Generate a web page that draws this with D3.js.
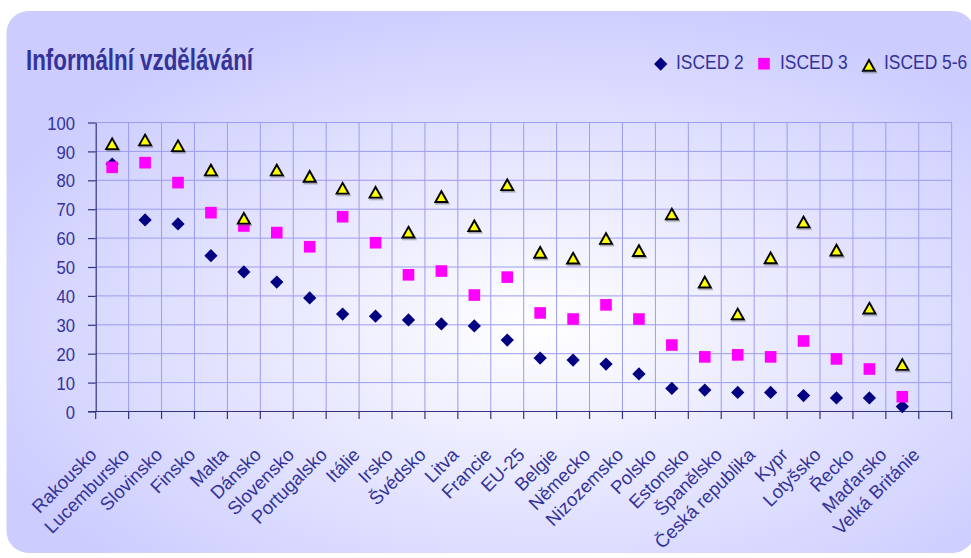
<!DOCTYPE html>
<html>
<head>
<meta charset="utf-8">
<script src="https://cdn.jsdelivr.net/npm/d3@7"></script>
<style>
  body { margin: 0; background: #fff; }
  svg { display: block; }
  text { font-family: "Liberation Sans", Arial, sans-serif; fill: #333399; }
</style>
</head>
<body>
<script>
var categories = ["Rakousko", "Lucembursko", "Slovinsko", "Finsko", "Malta", "Dánsko", "Slovensko",
    "Portugalsko", "Itálie", "Irsko", "Švédsko", "Litva", "Francie", "EU-25", "Belgie", "Německo",
    "Nizozemsko", "Polsko", "Estonsko", "Španělsko", "Česká republika", "Kypr", "Lotyšsko", "Řecko",
    "Maďarsko", "Velká Británie"];
var isced2 = [85.6, 66.3, 64.9, 53.9, 48.3, 44.8, 39.3, 33.7, 33.0, 31.7, 30.3, 29.6, 24.7, 18.5,
    17.8, 16.4, 13.0, 8.0, 7.4, 6.6, 6.6, 5.5, 4.7, 4.7, 1.7, null];
var isced3 = [84.5, 86.1, 79.2, 68.8, 64.2, 61.9, 57.0, 67.4, 58.4, 47.3, 48.6, 40.3, 46.5, 34.1,
    32.0, 36.9, 32.0, 23.0, 18.9, 19.6, 18.9, 24.4, 18.2, 14.7, 5.1, null];
var isced56 = [92.6, 93.9, 91.9, 83.5, 66.8, 83.5, 81.3, 77.2, 75.8, 62.0, 74.3, 64.2, 78.4, 55.0,
    53.0, 59.8, 55.6, 68.3, 44.7, 33.7, 53.1, 65.5, 55.8, 35.7, 16.2, null];
var seriesNames = ["ISCED 2", "ISCED 3", "ISCED 5-6"];
var yTicks = [0, 10, 20, 30, 40, 50, 60, 70, 80, 90, 100];

var width = 971, height = 558;
var plot = {left: 95.7, right: 951.7, top: 122.5, bottom: 411.5};
var gridColor = "#9c9cf2";
var axisColor = "#333380";

var svg = d3.select("body").append("svg")
    .attr("width", width)
    .attr("height", height);

var defs = svg.append("defs");
var grad = defs.append("radialGradient")
    .attr("id", "bg")
    .attr("cx", "55%").attr("cy", "58%").attr("r", "62%");
grad.append("stop").attr("offset", "0%").attr("stop-color", "#ffffff");
grad.append("stop").attr("offset", "100%").attr("stop-color", "#ccccff");

var shadow = defs.append("filter").attr("id", "shadow")
    .attr("x", "-50%").attr("y", "-50%").attr("width", "200%").attr("height", "200%");
shadow.append("feDropShadow")
    .attr("dx", 1).attr("dy", 1.5).attr("stdDeviation", 0.7)
    .attr("flood-color", "#555").attr("flood-opacity", 0.5);

// panel
svg.append("rect")
    .attr("x", 6.5).attr("y", 11)
    .attr("width", 968).attr("height", 542)
    .attr("rx", 22).attr("ry", 22)
    .attr("fill", "url(#bg)");

var x = d3.scaleBand()
    .domain(categories)
    .range([plot.left, plot.right])
    .padding(0);

var y = d3.scaleLinear()
    .domain([0, 100])
    .range([plot.bottom, plot.top]);

var g = svg.append("g");

// horizontal grid
g.selectAll(".hgrid")
    .data(yTicks.slice(1))
    .enter().append("line")
    .attr("x1", plot.left).attr("x2", plot.right)
    .attr("y1", (d) => y(d)).attr("y2", (d) => y(d))
    .attr("stroke", gridColor).attr("stroke-width", 1);

// vertical grid (band boundaries)
var bounds = categories.map((c) => x(c)).concat([plot.right]);
g.selectAll(".vgrid")
    .data(bounds.slice(1))
    .enter().append("line")
    .attr("x1", (d) => d).attr("x2", (d) => d)
    .attr("y1", plot.top).attr("y2", plot.bottom)
    .attr("stroke", gridColor).attr("stroke-width", 1);

// left axis
var leftAxis = d3.axisLeft(y)
    .tickValues(yTicks)
    .tickSize(7.7)
    .tickSizeOuter(0);
var ya = g.append("g")
    .attr("class", "left axis")
    .attr("transform", "translate(" + plot.left + ",0)")
    .call(leftAxis);
ya.select(".domain").attr("stroke", axisColor).attr("stroke-width", 1.2);
ya.selectAll(".tick line").attr("stroke", axisColor).attr("stroke-width", 1.2);
ya.selectAll(".tick text")
    .attr("x", -20.7 / 0.9)
    .attr("dy", null)
    .attr("y", 6.6)
    .attr("transform", "scale(0.9,1)")
    .attr("font-size", "18.5px")
    .attr("fill", "#333399")
    .attr("text-anchor", "end");

// bottom axis line and ticks at band boundaries
g.append("line")
    .attr("x1", plot.left - 7.7).attr("x2", plot.right)
    .attr("y1", plot.bottom).attr("y2", plot.bottom)
    .attr("stroke", axisColor).attr("stroke-width", 1.2);
g.selectAll(".xtick")
    .data(bounds)
    .enter().append("line")
    .attr("x1", (d) => d).attr("x2", (d) => d)
    .attr("y1", plot.bottom).attr("y2", plot.bottom + 7.5)
    .attr("stroke", axisColor).attr("stroke-width", 1.2);

// category labels
g.selectAll(".xlabel")
    .data(categories)
    .enter().append("text")
    .attr("text-anchor", "end")
    .attr("font-size", "18.5px")
    .attr("transform", (d) => "translate(" + (x(d) + 2) + ",456) rotate(-45)")
    .text((d) => d);

// markers
var diamondPath = d3.symbol().type(d3.symbolSquare).size(88)();
var squarePath = d3.symbol().type(d3.symbolSquare).size(135)();
var trianglePath = "M0,-5.5L6,5.2L-6,5.2Z";
var cx = (i) => x(categories[i]) + x.bandwidth() / 2;

function pts(arr) {
    return arr.map((v, i) => ({i: i, v: v})).filter((d) => d.v != null);
}

g.selectAll(".s2")
    .data(pts(isced2))
    .enter().append("path")
    .attr("d", diamondPath)
    .attr("transform", (d) => "translate(" + cx(d.i) + "," + y(d.v) + ") rotate(45)")
    .attr("fill", "#000080");

g.selectAll(".s3")
    .data(pts(isced3))
    .enter().append("path")
    .attr("d", squarePath)
    .attr("transform", (d) => "translate(" + cx(d.i) + "," + y(d.v) + ")")
    .attr("fill", "#ff00ff");

g.selectAll(".s56")
    .data(pts(isced56))
    .enter().append("path")
    .attr("d", trianglePath)
    .attr("transform", (d) => "translate(" + cx(d.i) + "," + y(d.v) + ")")
    .attr("fill", "#ffff00")
    .attr("stroke", "#000")
    .attr("stroke-width", 1.9)
    .attr("stroke-linejoin", "miter")
    .attr("filter", "url(#shadow)");

// title
svg.append("text")
    .attr("transform", "translate(26,70) scale(0.77,1)")
    .attr("font-size", "29px")
    .attr("font-weight", "bold")
    .text("Informální vzdělávání");

// legend
var legend = [
    {name: seriesNames[0], mx: 660.7, my: 64, tx: 676},
    {name: seriesNames[1], mx: 764, my: 63.7, tx: 780},
    {name: seriesNames[2], mx: 869, my: 65.5, tx: 884}
];
var lg = svg.append("g").attr("class", "legend");
lg.append("path").attr("d", diamondPath)
    .attr("transform", "translate(" + legend[0].mx + "," + legend[0].my + ") rotate(45)")
    .attr("fill", "#000080");
lg.append("path").attr("d", squarePath)
    .attr("transform", "translate(" + legend[1].mx + "," + legend[1].my + ")")
    .attr("fill", "#ff00ff");
lg.append("path").attr("d", trianglePath)
    .attr("transform", "translate(" + legend[2].mx + "," + legend[2].my + ")")
    .attr("fill", "#ffff00").attr("stroke", "#000").attr("stroke-width", 1.9)
    .attr("filter", "url(#shadow)");
lg.selectAll("text")
    .data(legend)
    .enter().append("text")
    .attr("transform", (d) => "translate(" + d.tx + ",69.3) scale(0.83,1)")
    .attr("font-size", "21px")
    .text((d) => d.name);
</script>
</body>
</html>
